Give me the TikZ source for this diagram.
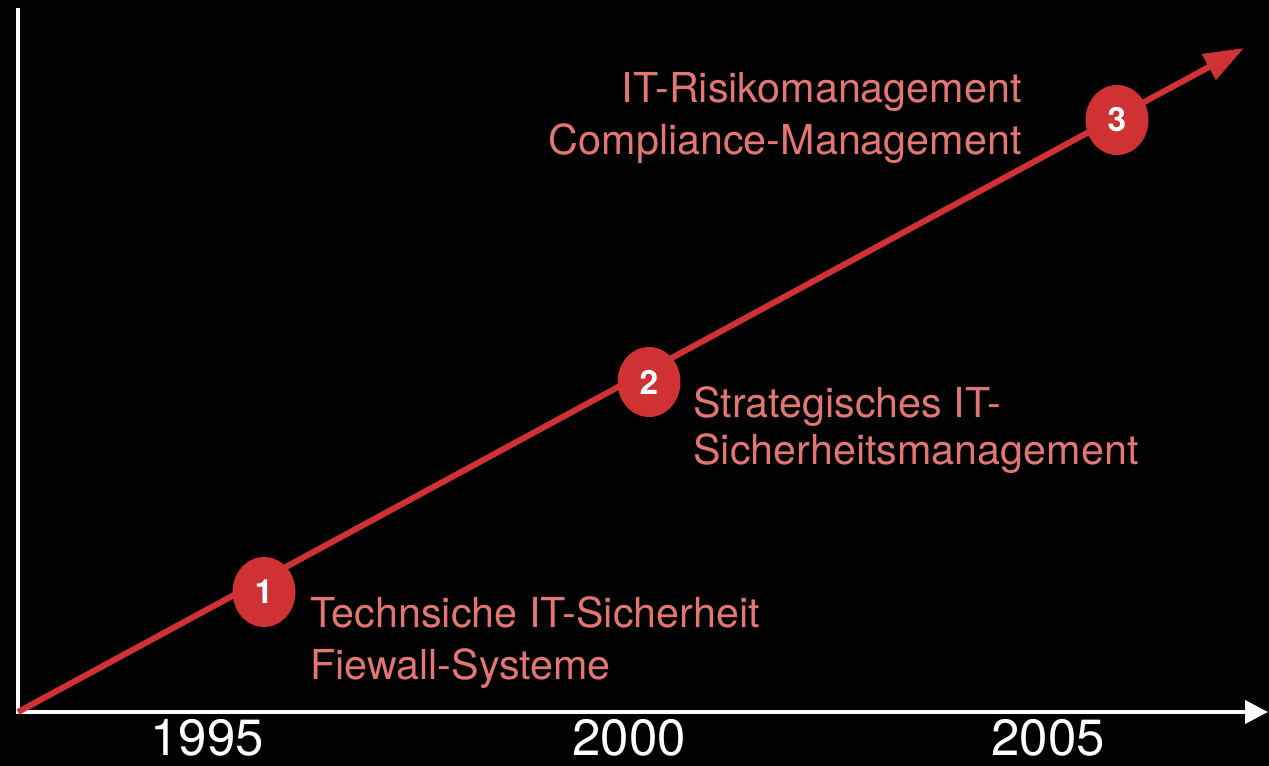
\documentclass[tikz,border=0pt]{standalone}
\usepackage{fontspec}
\setmainfont{TeX Gyre Heros}
\usepackage{xcolor}
\usepackage{tikz}
\usetikzlibrary{arrows.meta,shapes.geometric}

\definecolor{trendred}{RGB}{208,50,52}
\definecolor{notered}{RGB}{226,118,114}

\begin{document}
\begin{tikzpicture}[
  x=0.02cm, y=-0.02cm,
  axis/.style={draw=white, line width=2.3pt, -{Triangle[length=0.46cm, width=0.46cm]}},
  trend/.style={draw=trendred, line width=3.4pt, -{Triangle[length=0.8cm, width=0.56cm]}},
  milestone/.style={ellipse, fill=trendred, minimum width=1.26cm, minimum height=1.4cm,
    inner sep=0pt, text=white, font=\fontsize{19}{19}\selectfont\bfseries},
  note/.style={text=notered, inner sep=0pt, font=\fontsize{23.5}{29.6}\selectfont},
  yearlab/.style={text=white, inner sep=0pt, anchor=base, font=\fontsize{29}{30}\selectfont}
]
% black page
\fill[black] (0,0) rectangle (1269,766);
\useasboundingbox (0,0) rectangle (1269,766);

% axes
\coordinate (O) at (18,712);
\coordinate (ytop) at (18,8);
\coordinate (xend) at (1268,712);
\coordinate (tip) at (1244,48);
\draw[axis] (ytop) -- (O) -- (xend);

% years
\node[yearlab] (y1995) at (207,756) {1995};
\node[yearlab] (y2000) at (629,756) {2000};
\node[yearlab] (y2005) at (1048,756) {2005};

% trend line with the three steps
\draw[trend] (O) -- (tip);
\node[milestone] (m1) at (264,592) {1};
\node[milestone] (m2) at (649,382) {2};
\node[milestone] (m3) at (1117,120) {3};

% what each step brought (anchored on the last line)
\node[note, anchor=base west, align=left] (n1) at (310,680)
  {Technsiche IT-Sicherheit\\Fiewall-Systeme};
\node[note, anchor=base west, align=left, font=\fontsize{23.5}{26.8}\selectfont] (n2) at (693,465)
  {Strategisches IT-\\Sicherheitsmanagement};
\node[note, anchor=base east, align=right] (n3) at (1022,155)
  {IT-Risikomanagement\\Compliance-Management};
\end{tikzpicture}
\end{document}
